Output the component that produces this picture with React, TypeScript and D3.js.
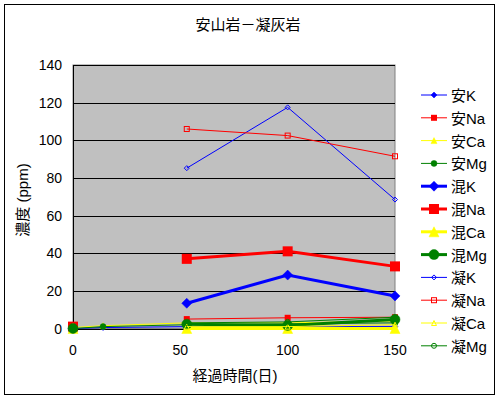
import React from "react";
import * as d3 from "d3";

const days = [0, 14, 53, 100, 150];
const anK = [0, 0.5, 1, 1, 1];
const anNa = [0.5, null, 5, 5.7, 6];
const anCa = [0.5, 1.5, 3, 3, 4];
const anMg = [0, 1, 2, 2.5, 3];
const konK = [0, null, 13.4, 28.4, 17.3];
const konNa = [1, null, 37, 41, 33];
const konCa = [0, null, 0, 0, 0];
const konMg = [0, null, 2.3, 1.6, 4.8];
const gyoK = [null, null, 85.2, 117.5, 68.5];
const gyoNa = [null, null, 106, 102.5, 91.5];
const gyoCa = [null, null, 1, 1, 2];
const gyoMg = [null, null, 3, 3.5, 6];

const seriesNames = ["安K", "安Na", "安Ca", "安Mg", "混K", "混Na", "混Ca", "混Mg", "凝K", "凝Na", "凝Ca", "凝Mg"];
const seriesValues = [anK, anNa, anCa, anMg, konK, konNa, konCa, konMg, gyoK, gyoNa, gyoCa, gyoMg];
const yTicks = [0, 20, 40, 60, 80, 100, 120, 140];
const xTicks = [0, 50, 100, 150];
const title = "安山岩－凝灰岩";
const xTitle = "経過時間(日)";
const yTitle = "濃度 (ppm)";

const colors = ["#0000FF", "#FF0000", "#FFFF00", "#008000"];
const shapes = ["diamond", "square", "triangle", "circle"];

const FONT = "'Liberation Sans', 'Noto Sans CJK JP', sans-serif";

function Marker({ shape, x, y, size, color, hollow }: any) {
  const fill = hollow ? "none" : color;
  const h = size / 2;
  if (shape === "diamond") {
    return <path d={`M${x},${y - h}L${x + h},${y}L${x},${y + h}L${x - h},${y}Z`} fill={fill} stroke={color} strokeWidth={hollow ? 1 : 0.5} />;
  }
  if (shape === "square") {
    return <rect x={x - h} y={y - h} width={size} height={size} fill={fill} stroke={color} strokeWidth={hollow ? 1 : 0} />;
  }
  if (shape === "triangle") {
    return <path d={`M${x},${y - h}L${x + h},${y + h}L${x - h},${y + h}Z`} fill={fill} stroke={color} strokeWidth={hollow ? 1 : 0.5} />;
  }
  return <circle cx={x} cy={y} r={h} fill={fill} stroke={color} strokeWidth={hollow ? 1 : 0.5} />;
}

export default function App() {
  const left = 73, right = 395, top = 65, bottom = 328.5;
  const x = d3.scaleLinear().domain([0, 150]).range([left, right]);
  const y = d3.scaleLinear().domain([0, 140]).range([bottom, top]);

  const series = seriesNames.map((name, i) => {
    const group = Math.floor(i / 4);
    const k = i % 4;
    return {
      name,
      values: seriesValues[i],
      color: colors[k],
      shape: shapes[k],
      width: group === 1 ? 3 : 1,
      size: group === 1 ? 10 : group === 0 ? 6 : 5,
      hollow: group === 2,
    };
  });

  const line = d3
    .line<number | null>()
    .defined((d) => d !== null)
    .x((_, i) => x(days[i]))
    .y((d) => y(d as number));

  return (
    <svg width={500} height={400} style={{ position: "absolute", left: 0, top: 0 }}>
      <rect x={0} y={0} width={500} height={400} fill="#fff" />
      <rect x={4.5} y={4.5} width={490} height={390} fill="#fff" stroke="#000" strokeWidth={1} />
      <text x={248} y={30} textAnchor="middle" fontSize={15} fontFamily={FONT}>{title}</text>

      <rect x={left} y={top} width={right - left} height={bottom - top} fill="#C0C0C0" stroke="#808080" strokeWidth={1} />
      {yTicks.map((t) => (
        <line key={t} x1={left} x2={right} y1={Math.round(y(t)) + 0.5} y2={Math.round(y(t)) + 0.5} stroke="#000" strokeWidth={1} />
      ))}
      <line x1={left + 0.5} x2={left + 0.5} y1={top} y2={bottom + 1} stroke="#000" />
      {yTicks.map((t) => (
        <text key={t} x={62} y={y(t) + 5} textAnchor="end" fontSize={14} fontFamily={FONT}>{t}</text>
      ))}
      {xTicks.map((t) => (
        <text key={t} x={x(t)} y={355} textAnchor="middle" fontSize={14} fontFamily={FONT}>{t}</text>
      ))}
      <text x={235} y={381} textAnchor="middle" fontSize={15} fontFamily={FONT}>{xTitle}</text>
      <text transform={`translate(28,200) rotate(-90)`} textAnchor="middle" fontSize={15} fontFamily={FONT}>{yTitle}</text>

      {series.map((s) => (
        <g key={s.name}>
          <path d={line(s.values) || ""} fill="none" stroke={s.color} strokeWidth={s.width} />
          {s.values.map((v, i) =>
            v === null ? null : (
              <Marker key={i} shape={s.shape} x={x(days[i])} y={y(v)} size={s.size} color={s.color} hollow={s.hollow} />
            )
          )}
        </g>
      ))}

      {series.map((s, i) => {
        const ly = 95 + i * 22.8;
        return (
          <g key={s.name}>
            <line x1={421} x2={447} y1={ly} y2={ly} stroke={s.color} strokeWidth={s.width} />
            <Marker shape={s.shape} x={434} y={ly} size={s.size} color={s.color} hollow={s.hollow} />
            <text x={451} y={ly + 6} fontSize={15} fontFamily={FONT}>{s.name}</text>
          </g>
        );
      })}
    </svg>
  );
}
